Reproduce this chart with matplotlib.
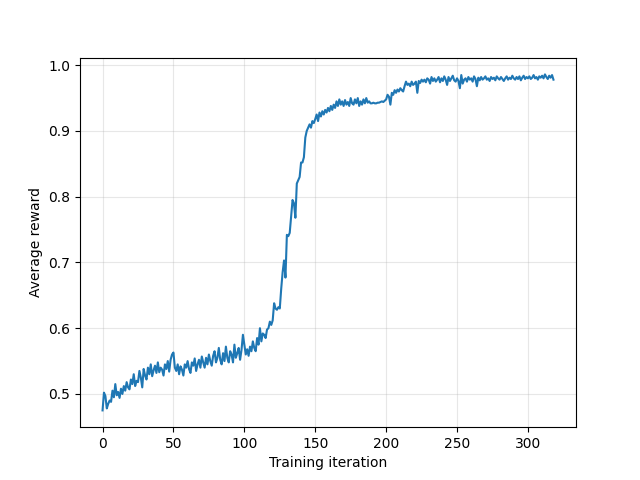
import numpy as np
import matplotlib
matplotlib.use("Agg")
import matplotlib.pyplot as plt

# average reward per training iteration
reward = [
    0.475, 0.502, 0.497, 0.478, 0.485, 0.490, 0.488, 0.505, 0.495, 0.515,
    0.498, 0.503, 0.494, 0.508, 0.500, 0.512, 0.505, 0.518, 0.510, 0.507,
    0.522, 0.515, 0.530, 0.512, 0.520, 0.518, 0.535, 0.525, 0.510, 0.538,
    0.528, 0.522, 0.540, 0.530, 0.545, 0.527, 0.536, 0.543, 0.532, 0.548,
    0.533, 0.540, 0.537, 0.528, 0.545, 0.538, 0.550, 0.534, 0.552, 0.560,
    0.563, 0.540, 0.535, 0.545, 0.530, 0.542, 0.537, 0.528, 0.545, 0.540,
    0.550, 0.538, 0.532, 0.548, 0.543, 0.554, 0.535, 0.545, 0.552, 0.540,
    0.557, 0.548, 0.540, 0.555, 0.545, 0.560, 0.550, 0.543, 0.558, 0.565,
    0.548, 0.555, 0.570, 0.552, 0.545, 0.562, 0.550, 0.572, 0.555, 0.548,
    0.565, 0.560, 0.548, 0.575, 0.555, 0.562, 0.570, 0.552, 0.567, 0.590,
    0.575, 0.560, 0.568, 0.558, 0.572, 0.565, 0.580, 0.570, 0.565, 0.585,
    0.575, 0.600, 0.580, 0.592, 0.590, 0.585, 0.598, 0.600, 0.610, 0.605,
    0.612, 0.638, 0.630, 0.628, 0.632, 0.630, 0.660, 0.685, 0.703, 0.677,
    0.742, 0.740, 0.745, 0.770, 0.795, 0.790, 0.768, 0.820, 0.825, 0.830,
    0.852, 0.852, 0.860, 0.890, 0.900, 0.905, 0.910, 0.905, 0.915, 0.912,
    0.918, 0.925, 0.915, 0.928, 0.922, 0.930, 0.925, 0.932, 0.928, 0.935,
    0.930, 0.938, 0.932, 0.940, 0.935, 0.945, 0.938, 0.948, 0.940, 0.945,
    0.938, 0.947, 0.940, 0.944, 0.938, 0.950, 0.942, 0.940, 0.948, 0.942,
    0.950, 0.938, 0.945, 0.940, 0.948, 0.942, 0.950, 0.943, 0.945, 0.942,
    0.942, 0.943, 0.942, 0.942, 0.943, 0.943, 0.944, 0.945, 0.944, 0.946,
    0.948, 0.955, 0.952, 0.940, 0.958, 0.955, 0.962, 0.958, 0.963, 0.960,
    0.965, 0.962, 0.960, 0.968, 0.975, 0.970, 0.972, 0.968, 0.975, 0.970,
    0.972, 0.975, 0.958, 0.976, 0.973, 0.978, 0.975, 0.978, 0.974, 0.980,
    0.978, 0.972, 0.982, 0.976, 0.980, 0.975, 0.978, 0.982, 0.974, 0.980,
    0.976, 0.983, 0.978, 0.970, 0.982, 0.976, 0.980, 0.984, 0.977, 0.975,
    0.980, 0.976, 0.965, 0.985, 0.972, 0.978, 0.980, 0.975, 0.982, 0.978,
    0.980, 0.975, 0.983, 0.979, 0.968, 0.981, 0.977, 0.982, 0.978, 0.980,
    0.983, 0.978, 0.980, 0.976, 0.982, 0.979, 0.981, 0.977, 0.983, 0.980,
    0.978, 0.982, 0.979, 0.976, 0.980, 0.983, 0.978, 0.981, 0.979, 0.984,
    0.980, 0.978, 0.982, 0.979, 0.983, 0.977, 0.981, 0.984, 0.979, 0.982,
    0.980, 0.983, 0.979, 0.981, 0.985, 0.980, 0.982, 0.978, 0.983, 0.981,
    0.984, 0.980, 0.986, 0.982, 0.979, 0.984, 0.981, 0.985, 0.978,
]
iteration = np.arange(len(reward))

fig, ax = plt.subplots(figsize=(6.4, 4.8), dpi=100)
ax.plot(iteration, reward, color="#1f77b4", linewidth=1.5)
ax.grid(True, alpha=0.3)
ax.set_xlabel("Training iteration")
ax.set_ylabel("Average reward")
fig.savefig("out.png")
